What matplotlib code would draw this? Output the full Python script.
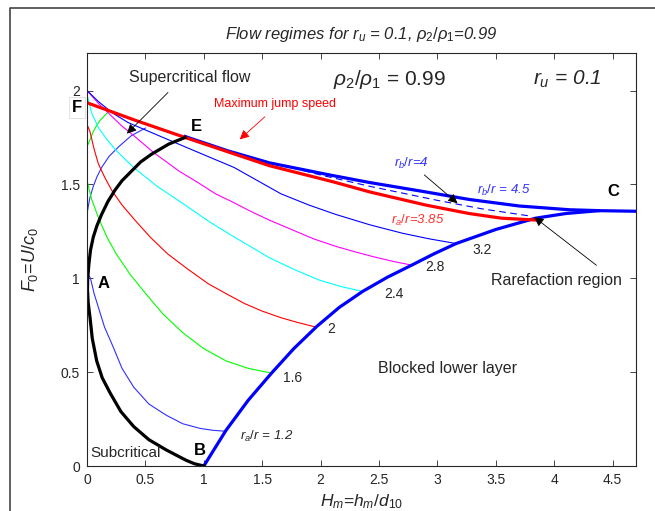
import matplotlib
matplotlib.use("Agg")
import matplotlib.pyplot as plt
from matplotlib.lines import Line2D

plt.rcParams['font.family'] = ['Liberation Sans', 'DejaVu Sans']
plt.rcParams['mathtext.fontset'] = 'custom'
plt.rcParams['mathtext.rm'] = 'Liberation Sans'
plt.rcParams['mathtext.it'] = 'Liberation Sans:italic'
plt.rcParams['mathtext.bf'] = 'Liberation Sans:bold'

# boundary curve E -> A -> B
bound_x = [0.84, 0.7, 0.55, 0.46, 0.38, 0.30, 0.24, 0.18, 0.125, 0.085, 0.054, 0.03, 0.017,
           0.006, 0.004, 0.01, 0.026, 0.045, 0.083, 0.13, 0.197, 0.29, 0.40, 0.53, 0.68, 0.85, 0.92, 1.0]
bound_y = [1.75, 1.715, 1.66, 1.62, 1.57, 1.52, 1.47, 1.41, 1.34, 1.28, 1.22, 1.15, 1.08,
           1.0, 0.94, 0.87, 0.79, 0.68, 0.56, 0.47, 0.39, 0.29, 0.21, 0.14, 0.085, 0.03, 0.012, 0.0]

# maximum jump speed (r_a/r = 3.85)
maxjump_x = [0, 0.42, 0.84, 1.2, 1.56, 2.1, 2.42, 2.9, 3.27, 3.55, 3.85]
maxjump_y = [1.935, 1.84, 1.75, 1.675, 1.60, 1.515, 1.46, 1.39, 1.345, 1.32, 1.31]

# r_b/r = 4.5 upper limit and C-line
rb45_x = [0.84, 1.2, 1.56, 2.08, 2.42, 2.9, 3.27, 3.7, 4.13, 4.4, 4.7]
rb45_y = [1.755, 1.68, 1.615, 1.55, 1.51, 1.46, 1.42, 1.385, 1.365, 1.36, 1.357]

# r_b/r = 4 (dashed)
rb4_x = [1.3, 2.0, 2.42, 3.0, 3.38, 3.81]
rb4_y = [1.66, 1.55, 1.49, 1.415, 1.37, 1.33]

# blocked lower layer boundary B -> C
lower_x = [1.0, 1.19, 1.38, 1.58, 1.77, 1.97, 2.16, 2.36, 2.57, 2.78, 2.97, 3.16, 3.5, 3.84, 4.1, 4.38]
lower_y = [0.0, 0.19, 0.35, 0.495, 0.625, 0.745, 0.845, 0.93, 1.005, 1.07, 1.13, 1.185, 1.26, 1.32, 1.345, 1.36]

# r_a/r family
ra12_x = [0.5, 0.38, 0.27, 0.19, 0.125, 0.085, 0.054, 0.025, 0.01, 0.0, 0.0, 0.03, 0.06, 0.1, 0.15,
          0.22, 0.3, 0.4, 0.53, 0.68, 0.82, 0.97, 1.08, 1.19]
ra12_y = [1.80, 1.76, 1.70, 1.65, 1.59, 1.54, 1.49, 1.43, 1.38, 1.34, 1.03, 1.0, 0.92, 0.84, 0.74,
          0.64, 0.52, 0.42, 0.33, 0.27, 0.225, 0.20, 0.19, 0.185]
ra16_x = [0.18, 0.11, 0.06, 0.02, 0.0, 0.0, 0.04, 0.1, 0.17, 0.25, 0.37, 0.5, 0.65, 0.82, 1.0, 1.19, 1.38, 1.58]
ra16_y = [1.885, 1.84, 1.79, 1.73, 1.70, 1.52, 1.42, 1.32, 1.22, 1.13, 1.02, 0.92, 0.81, 0.71, 0.625, 0.56, 0.52, 0.495]
ra20_x = [0.0, 0.0, 0.026, 0.06, 0.097, 0.15, 0.21, 0.3, 0.41, 0.54, 0.69, 0.86, 1.04, 1.2, 1.35, 1.5, 1.66, 1.8, 1.96]
ra20_y = [1.93, 1.82, 1.78, 1.69, 1.61, 1.54, 1.47, 1.39, 1.31, 1.22, 1.13, 1.05, 0.97, 0.915, 0.865, 0.825, 0.79, 0.765, 0.74]
ra24_x = [0.0, 0.04, 0.1, 0.17, 0.25, 0.4, 0.6, 0.84, 1.05, 1.26, 1.41, 1.56, 1.78, 1.99, 2.18, 2.36]
ra24_y = [1.98, 1.88, 1.80, 1.74, 1.68, 1.59, 1.49, 1.39, 1.30, 1.22, 1.165, 1.11, 1.045, 0.99, 0.955, 0.93]
ra28_x = [0.0, 0.1, 0.2, 0.3, 0.4, 0.57, 0.79, 0.95, 1.1, 1.25, 1.39, 1.56, 1.75, 1.94, 2.13, 2.3, 2.45, 2.62, 2.78]
ra28_y = [2.0, 1.93, 1.87, 1.81, 1.76, 1.67, 1.57, 1.51, 1.45, 1.405, 1.36, 1.31, 1.26, 1.21, 1.17, 1.14, 1.115, 1.09, 1.07]
ra32_x = [0.0, 0.1, 0.22, 0.35, 0.5, 0.67, 0.84, 1.05, 1.26, 1.46, 1.66, 1.9, 2.13, 2.42, 2.70, 2.93, 3.16]
ra32_y = [2.0, 1.94, 1.88, 1.83, 1.79, 1.745, 1.70, 1.645, 1.59, 1.52, 1.45, 1.39, 1.34, 1.285, 1.24, 1.21, 1.185]

ra_labels = ['3.2', '2.8', '2.4', '2', '1.6']
ra_label_x = [3.38, 2.98, 2.63, 2.09, 1.76]
ra_label_y = [1.15, 1.06, 0.915, 0.73, 0.47]

fig = plt.figure(figsize=(6.55, 5.11), dpi=100)
ax = fig.add_axes([87/655, 1-466/511, (636-87)/655, (466-53)/511])

ax.plot(ra12_x, ra12_y, color='#3030ff', lw=0.8)
ax.plot(ra16_x, ra16_y, color='#00ff00', lw=0.8)
ax.plot(ra20_x, ra20_y, color='#ff0000', lw=0.8)
ax.plot(ra24_x, ra24_y, color='#00ffff', lw=0.8)
ax.plot(ra28_x, ra28_y, color='#ff00ff', lw=0.8)
ax.plot(ra32_x, ra32_y, color='#0000ff', lw=0.8)

ax.plot(rb4_x, rb4_y, color='#0000ff', lw=0.8, ls=(0, (6, 4)))
ax.plot(rb45_x, rb45_y, color='#0000ff', lw=2.3)
ax.plot(lower_x, lower_y, color='#0000ff', lw=2.3)
ax.plot(maxjump_x, maxjump_y, color='#ff0000', lw=2.3)
ax.plot(bound_x, bound_y, color='black', lw=2.3)

ax.set_xlim(0, 4.7)
ax.set_ylim(0, 2.2)
ax.set_xticks([0, 0.5, 1, 1.5, 2, 2.5, 3, 3.5, 4, 4.5])
ax.set_xticklabels(['0', '0.5', '1', '1.5', '2', '2.5', '3', '3.5', '4', '4.5'])
ax.set_yticks([0, 0.5, 1, 1.5, 2])
ax.set_yticklabels(['0', '0.5', '1', '1.5', '2'])
ax.tick_params(direction='in', top=True, right=True, length=4, width=0.6,
               colors='#262626', labelsize=10, pad=5)
for s in ax.spines.values():
    s.set_color('#262626')
    s.set_linewidth(0.8)

ax.set_title(r'Flow regimes for $r_u$ = 0.1, $\rho_2/\rho_1$=0.99', fontsize=12,
             style='italic', pad=10, color='#262626')
ax.set_xlabel(r'$H_m$=$h_m$/$d_{10}$', fontsize=12.5, labelpad=4, color='#262626')
ax.set_ylabel(r'$F_0$=$U$/$c_0$', fontsize=13, labelpad=15, color='#262626')

for t, x, y in zip(ra_labels, ra_label_x, ra_label_y):
    ax.text(x, y, t, fontsize=10, ha='center', va='center', color='#262626')
ax.text(1.31, 0.16, r'$r_a/r$ = 1.2', fontsize=9.5, ha='left', va='center',
        style='italic', color='#262626')

ax.text(0.03, 0.07, 'Subcritical', fontsize=11, ha='left', va='center', color='#262626')
ax.text(0.97, 0.085, 'B', fontsize=12, ha='center', va='center', fontweight='bold')
ax.text(0.14, 0.97, 'A', fontsize=12, ha='center', va='center', fontweight='bold')
ax.text(0.94, 1.81, 'E', fontsize=12, ha='center', va='center', fontweight='bold')
ax.text(4.51, 1.46, 'C', fontsize=12, ha='center', va='center', fontweight='bold')
ax.text(-0.085, 1.91, 'F', fontsize=12, ha='center', va='center', fontweight='bold',
        clip_on=False, bbox=dict(fc='white', ec='#dddddd', lw=0.6, pad=2))

ax.text(0.88, 2.07, 'Supercritical flow', fontsize=11.5, ha='center', va='center', color='#262626')
ax.text(1.61, 1.93, 'Maximum jump speed', fontsize=9, ha='center', va='center', color='#ff0000')
ax.text(2.59, 2.06, r'$\rho_2/\rho_1$ = 0.99', fontsize=15, ha='center', va='center', color='#262626')
ax.text(4.11, 2.06, r'$r_u$ = 0.1', fontsize=15, ha='center', va='center', color='#262626',
        style='italic')
ax.text(2.78, 1.61, r'$r_b/r$=4', fontsize=9.5, ha='center', va='center', color='#3030ff', style='italic')
ax.text(3.57, 1.47, r'$r_b/r$ = 4.5', fontsize=9.5, ha='center', va='center', color='#3030ff', style='italic')
ax.text(2.83, 1.31, r'$r_a/r$=3.85', fontsize=9.5, ha='center', va='center', color='#ff3030', style='italic')
ax.text(4.02, 0.99, 'Rarefaction region', fontsize=11.5, ha='center', va='center', color='#262626')
ax.text(3.09, 0.52, 'Blocked lower layer', fontsize=11.5, ha='center', va='center', color='#262626')

ax.annotate('', xy=(0.325, 1.76), xytext=(0.71, 2.0),
            arrowprops=dict(arrowstyle='-|>', color='black', lw=0.6, mutation_scale=14))
ax.annotate('', xy=(1.29, 1.73), xytext=(1.54, 1.87),
            arrowprops=dict(arrowstyle='-|>', color='#ff0000', lw=0.6, mutation_scale=14))
ax.annotate('', xy=(3.19, 1.39), xytext=(2.87, 1.56),
            arrowprops=dict(arrowstyle='-|>', color='black', lw=0.6, mutation_scale=14))
ax.annotate('', xy=(3.81, 1.335), xytext=(4.38, 1.06),
            arrowprops=dict(arrowstyle='-|>', color='black', lw=0.6, mutation_scale=14))

fig.add_artist(Line2D([10/655, 10/655, 1], [0, 1-8/511, 1-8/511],
                      transform=fig.transFigure, color='#444444', lw=1.2))

fig.savefig('out.png', dpi=100)
